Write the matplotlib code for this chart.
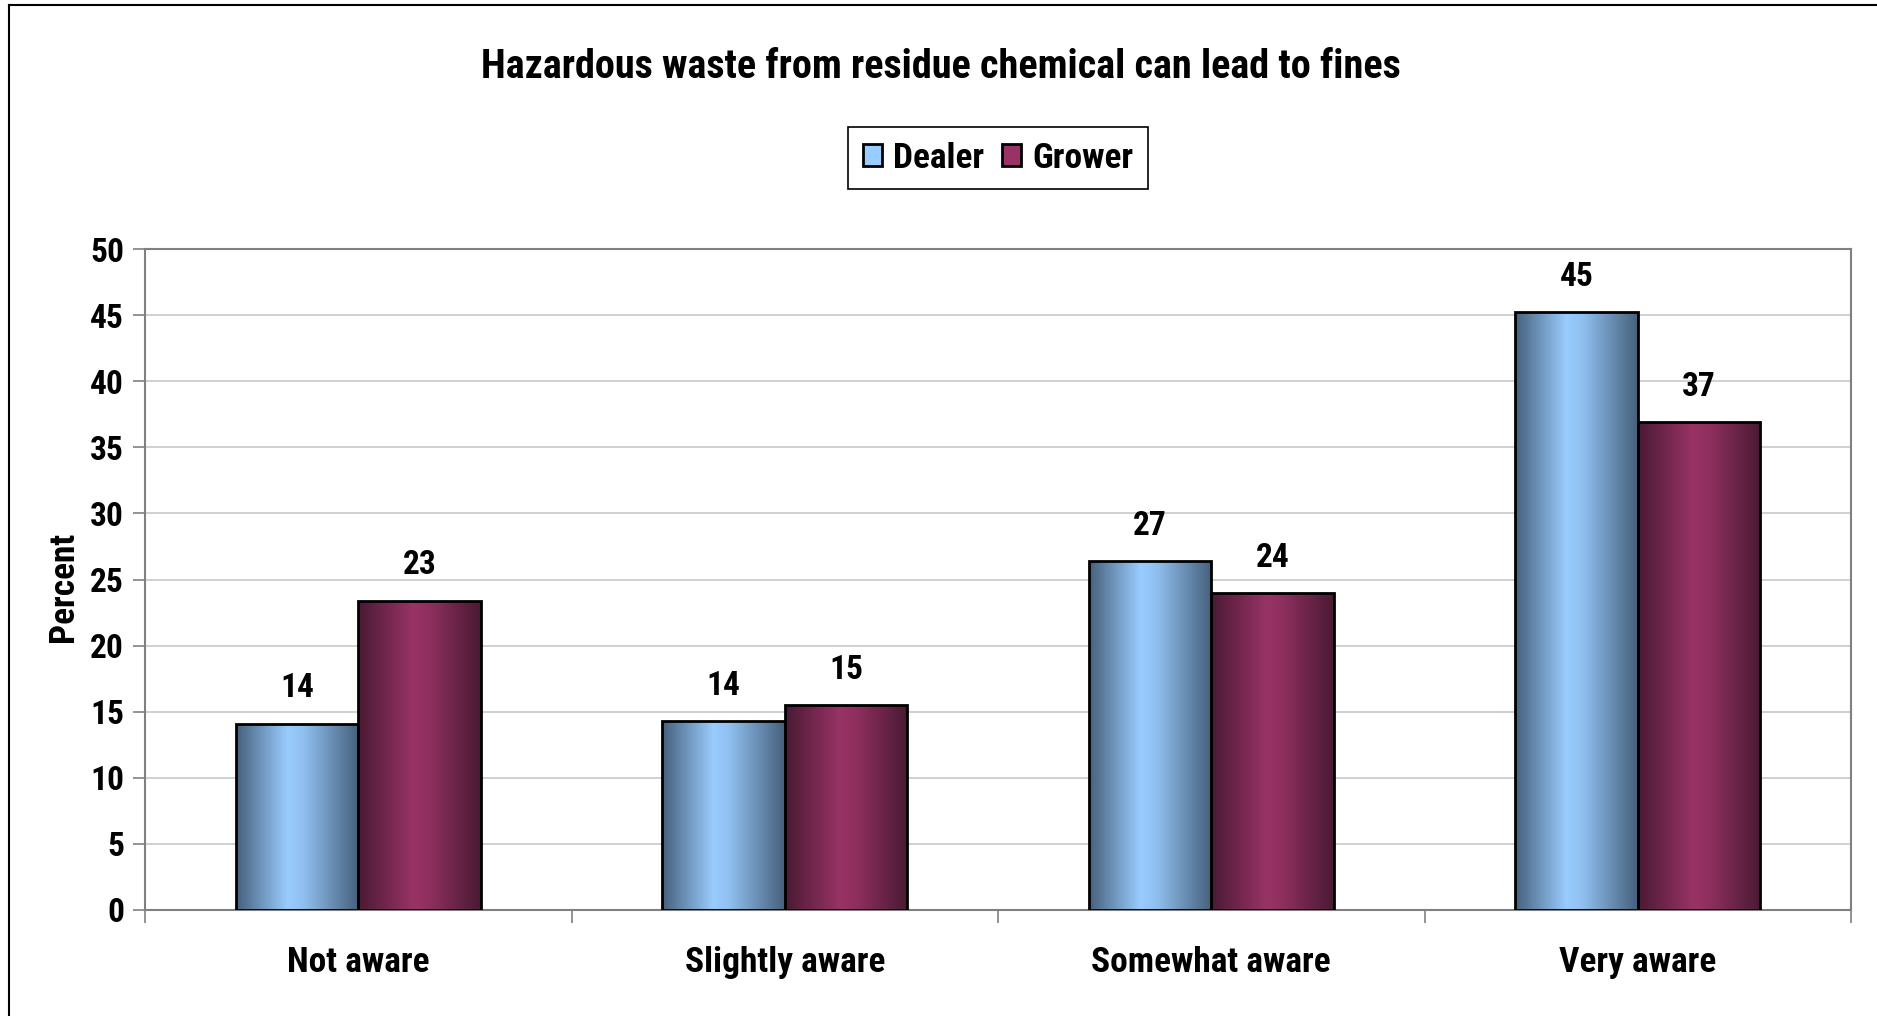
import matplotlib.pyplot as plt
import numpy as np
from matplotlib import font_manager
from matplotlib.colors import LinearSegmentedColormap
from matplotlib.lines import Line2D

# Data
CATEGORIES = ['Not aware', 'Slightly aware', 'Somewhat aware', 'Very aware']
SERIES = ['Dealer', 'Grower']
DEALER = [14.1, 14.3, 26.4, 45.2]
GROWER = [23.4, 15.5, 24.0, 36.9]
DEALER_LABELS = ['14', '14', '27', '45']
GROWER_LABELS = ['23', '15', '24', '37']
TITLE = 'Hazardous waste from residue chemical can lead to fines'

# prefer a narrow face like the original Arial Narrow
installed = {f.name for f in font_manager.fontManager.ttflist}
NARROW = None
for cand in ['Liberation Sans Narrow', 'Arial Narrow', 'Roboto Condensed',
             'DejaVu Sans Condensed', 'Open Sans Condensed']:
    if cand in installed:
        NARROW = cand
        break
FONT = ([NARROW] if NARROW else []) + ['Liberation Sans', 'DejaVu Sans']
plt.rcParams['font.family'] = FONT
plt.rcParams['font.weight'] = 'bold'
SCALE = 1.0 if NARROW else 0.86

TICK_FS = 24 * SCALE
CAT_FS = 25.5 * SCALE
TITLE_FS = 29 * SCALE

DEALER_CMAP = LinearSegmentedColormap.from_list(
    'dealer', [(0, '#46607c'), (0.42, '#99ccff'), (0.55, '#90c0f0'), (1, '#46607c')])
GROWER_CMAP = LinearSegmentedColormap.from_list(
    'grower', [(0, '#4a1a33'), (0.45, '#993366'), (0.58, '#8f2f5e'), (1, '#4a1a33')])


def gradient_bars(ax, bars, cmap):
    grad = np.linspace(0, 1, 256).reshape(1, -1)
    for bar in bars:
        x, y = bar.get_xy()
        w, h = bar.get_width(), bar.get_height()
        im = ax.imshow(grad, cmap=cmap, aspect='auto', extent=[x, x + w, y, y + h],
                       zorder=2, interpolation='bicubic')
        im.set_clip_path(bar)
        bar.set_facecolor('none')


fig = plt.figure(figsize=(18.77, 10.16), dpi=100)
ax = fig.add_axes([145 / 1877, 1 - 910 / 1016, (1851 - 145) / 1877, (910 - 249) / 1016])

x = np.arange(len(CATEGORIES))
width = 0.287
b1 = ax.bar(x - width / 2, DEALER, width, edgecolor='black', linewidth=2, zorder=3, label='Dealer')
b2 = ax.bar(x + width / 2, GROWER, width, edgecolor='black', linewidth=2, zorder=3, label='Grower')
gradient_bars(ax, b1, DEALER_CMAP)
gradient_bars(ax, b2, GROWER_CMAP)

for bar, lab in zip(list(b1) + list(b2), DEALER_LABELS + GROWER_LABELS):
    ax.text(bar.get_x() + bar.get_width() / 2, bar.get_height() + 1.45, lab,
            ha='center', va='bottom', fontsize=TICK_FS, fontweight='bold')

ax.set_xlim(-0.5, 3.5)
ax.set_ylim(0, 50)
ax.set_yticks(range(0, 51, 5))
ax.set_xticks(x)
ax.set_xticklabels(CATEGORIES)
ax.set_xticks(np.arange(-0.5, 4, 1), minor=True)
ax.tick_params(axis='x', which='major', length=0, pad=26, labelsize=CAT_FS)
ax.tick_params(axis='x', which='minor', length=9, width=1.2, color='#808080')
ax.tick_params(axis='y', length=9, width=1.2, color='#808080', labelsize=TICK_FS, pad=6)
for lab in ax.get_xticklabels() + ax.get_yticklabels():
    lab.set_fontweight('bold')
ax.grid(axis='y', color='#c8c8c8', linewidth=1.2, zorder=0)
ax.set_axisbelow(True)
for sp in ax.spines.values():
    sp.set_color('#808080')
    sp.set_linewidth(1.5)
ax.set_ylabel('Percent', fontsize=CAT_FS, fontweight='bold')
ax.yaxis.set_label_coords(80 / 1877, 1 - 587 / 1016, transform=fig.transFigure)

# legend with flat handles
h1 = plt.Rectangle((0, 0), 1, 1, facecolor='#99ccff', edgecolor='black', linewidth=2)
h2 = plt.Rectangle((0, 0), 1, 1, facecolor='#993366', edgecolor='black', linewidth=2)
leg = ax.legend([h1, h2], SERIES, loc='center', ncol=2, fancybox=False, framealpha=1,
                edgecolor='black', fontsize=CAT_FS, handlelength=0.55, handleheight=0.55,
                handletextpad=0.3, columnspacing=0.5, borderpad=0.42)
leg.set_bbox_to_anchor((998 / 1877, 1 - 158 / 1016), transform=fig.transFigure)
leg.get_frame().set_linewidth(1.2)
for t in leg.get_texts():
    t.set_fontweight('bold')

fig.text(941 / 1877, 1 - 67 / 1016, TITLE, ha='center', va='center',
         fontsize=TITLE_FS, fontweight='bold')

# outer chart frame
fig.add_artist(Line2D([9 / 1877, 9 / 1877], [0, 1 - 5 / 1016], color='black', linewidth=1.5))
fig.add_artist(Line2D([9 / 1877, 1], [1 - 5 / 1016, 1 - 5 / 1016], color='black', linewidth=1.5))

fig.savefig('out.png', dpi=100)
